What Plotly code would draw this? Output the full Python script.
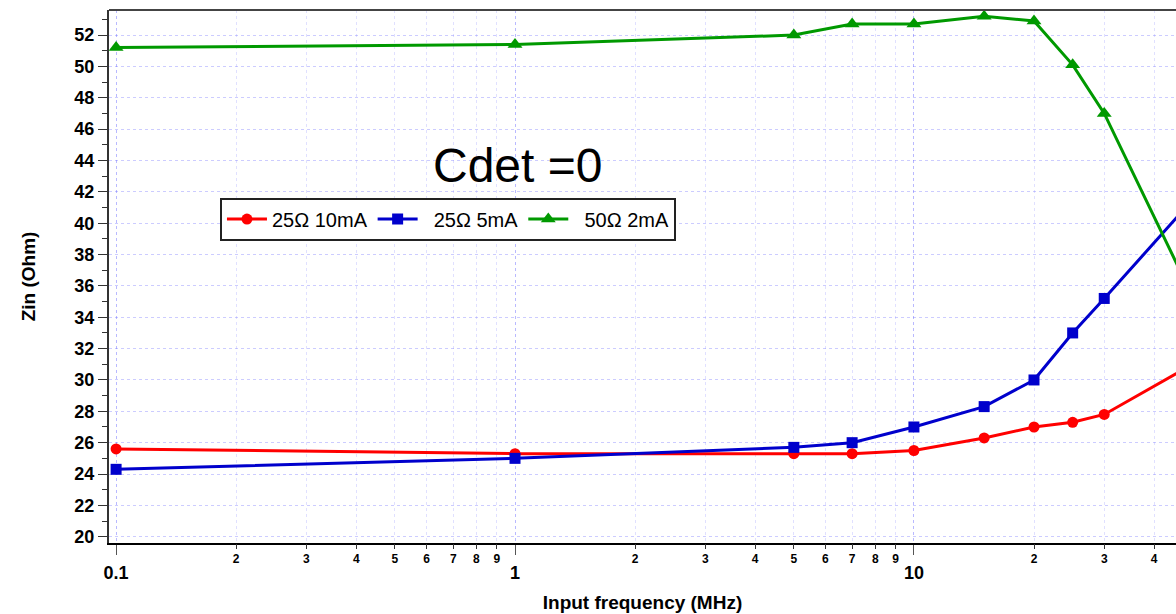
import plotly.graph_objects as go

freq = [0.1, 1, 5, 7, 10, 15, 20, 25, 30, 50]
z_25_10mA = [25.6, 25.3, 25.3, 25.3, 25.5, 26.3, 27.0, 27.3, 27.8, 31.0]
z_25_5mA = [24.3, 25.0, 25.7, 26.0, 27.0, 28.3, 30.0, 33.0, 35.2, 41.5]
z_50_2mA = [51.2, 51.4, 52.0, 52.7, 52.7, 53.2, 52.9, 50.1, 47.0, 35.3]

names = ["25Ω 10mA", "\u00a0\u00a025Ω 5mA", "\u00a0\u00a050Ω 2mA"]
major_vals = [0.1, 1, 10]
major_text = ["0.1", "1", "10"]
minor_vals = [m * d for d in (0.1, 1, 10) for m in range(2, 10)]
minor_text = [str(m) for d in (0.1, 1, 10) for m in range(2, 10)]

FONT = "Arial, Liberation Sans, sans-serif"

fig = go.Figure()
styles = [
    ("#ff0000", "circle", 11),
    ("#0000cc", "square", 11),
    ("#009900", "triangle-up", 13),
]
for ys, name, (col, sym, sz) in zip([z_25_10mA, z_25_5mA, z_50_2mA], names, styles):
    fig.add_trace(go.Scatter(
        x=freq, y=ys, name=name, mode="lines+markers",
        line=dict(color=col, width=3),
        marker=dict(symbol=sym, size=sz, color=col),
    ))

# invisible trace to activate overlay axis for minor labels
fig.add_trace(go.Scatter(x=[0.1], y=[20], xaxis="x2", showlegend=False,
                         mode="markers", marker=dict(opacity=0), hoverinfo="skip"))

xr = [-1.0178, 1.657]
fig.update_layout(
    width=1176, height=614,
    margin=dict(l=109, r=0, t=10, b=71, autoexpand=False),
    paper_bgcolor="white", plot_bgcolor="white",
    font=dict(family=FONT, color="black"),
    showlegend=True,
    legend=dict(
        orientation="h", x=0.104, y=0.648, xanchor="left", yanchor="top",
        bgcolor="white", bordercolor="#222222", borderwidth=2,
        font=dict(size=20, family=FONT), itemwidth=40,
    ),
    xaxis=dict(
        type="log", range=xr, automargin=False,
        tickvals=major_vals, ticktext=major_text,
        tickfont=dict(size=18, family=FONT, weight="bold"),
        ticks="outside", ticklen=10, tickwidth=1, tickcolor="#555555",
        ticklabelstandoff=2,
        showline=True, linecolor="black", linewidth=2, mirror=False,
        showgrid=True, gridcolor="rgba(100,100,255,0.45)", griddash="dot", gridwidth=1,
        zeroline=False,
        title=dict(text="<b>Input frequency (MHz)</b>", font=dict(size=19, family=FONT), standoff=14),
    ),
    xaxis2=dict(
        type="log", range=xr, overlaying="x", side="bottom", anchor="y", automargin=False,
        tickvals=minor_vals, ticktext=minor_text,
        tickfont=dict(size=12, family=FONT, weight="bold"),
        ticks="outside", ticklen=5, tickwidth=1, tickcolor="#333333",
        showgrid=True, gridcolor="rgba(130,130,255,0.25)", griddash="dot", gridwidth=1,
        showline=False, zeroline=False,
    ),
    yaxis=dict(
        range=[19.6, 53.6], dtick=2, tick0=20, automargin=False,
        tickfont=dict(size=18, family=FONT, weight="bold"),
        ticks="outside", ticklen=9, tickwidth=1, tickcolor="#333333",
        showline=True, linecolor="#333333", linewidth=2, mirror=False,
        showgrid=True, gridcolor="rgba(110,110,255,0.35)", griddash="dot", gridwidth=1,
        zeroline=False,
        minor=dict(dtick=1, ticks="outside", ticklen=5, tickcolor="#333333", showgrid=False),
        title=dict(text="<b>Zin (Ohm)</b>", font=dict(size=19, family=FONT), standoff=34),
    ),
    shapes=[
        dict(type="line", xref="paper", yref="paper", x0=0, x1=1, y0=1, y1=1,
             line=dict(color="#444444", width=2)),
    ],
    annotations=[
        dict(text="Cdet =0", xref="paper", yref="paper", x=0.383, y=0.709,
             xanchor="center", yanchor="middle", showarrow=False,
             font=dict(size=48, family=FONT, color="black")),
    ],
)

fig.write_html(
    "out.html",
    config={"displayModeBar": False},
    post_script="document.body.style.margin='0';document.body.style.overflow='hidden';",
)
